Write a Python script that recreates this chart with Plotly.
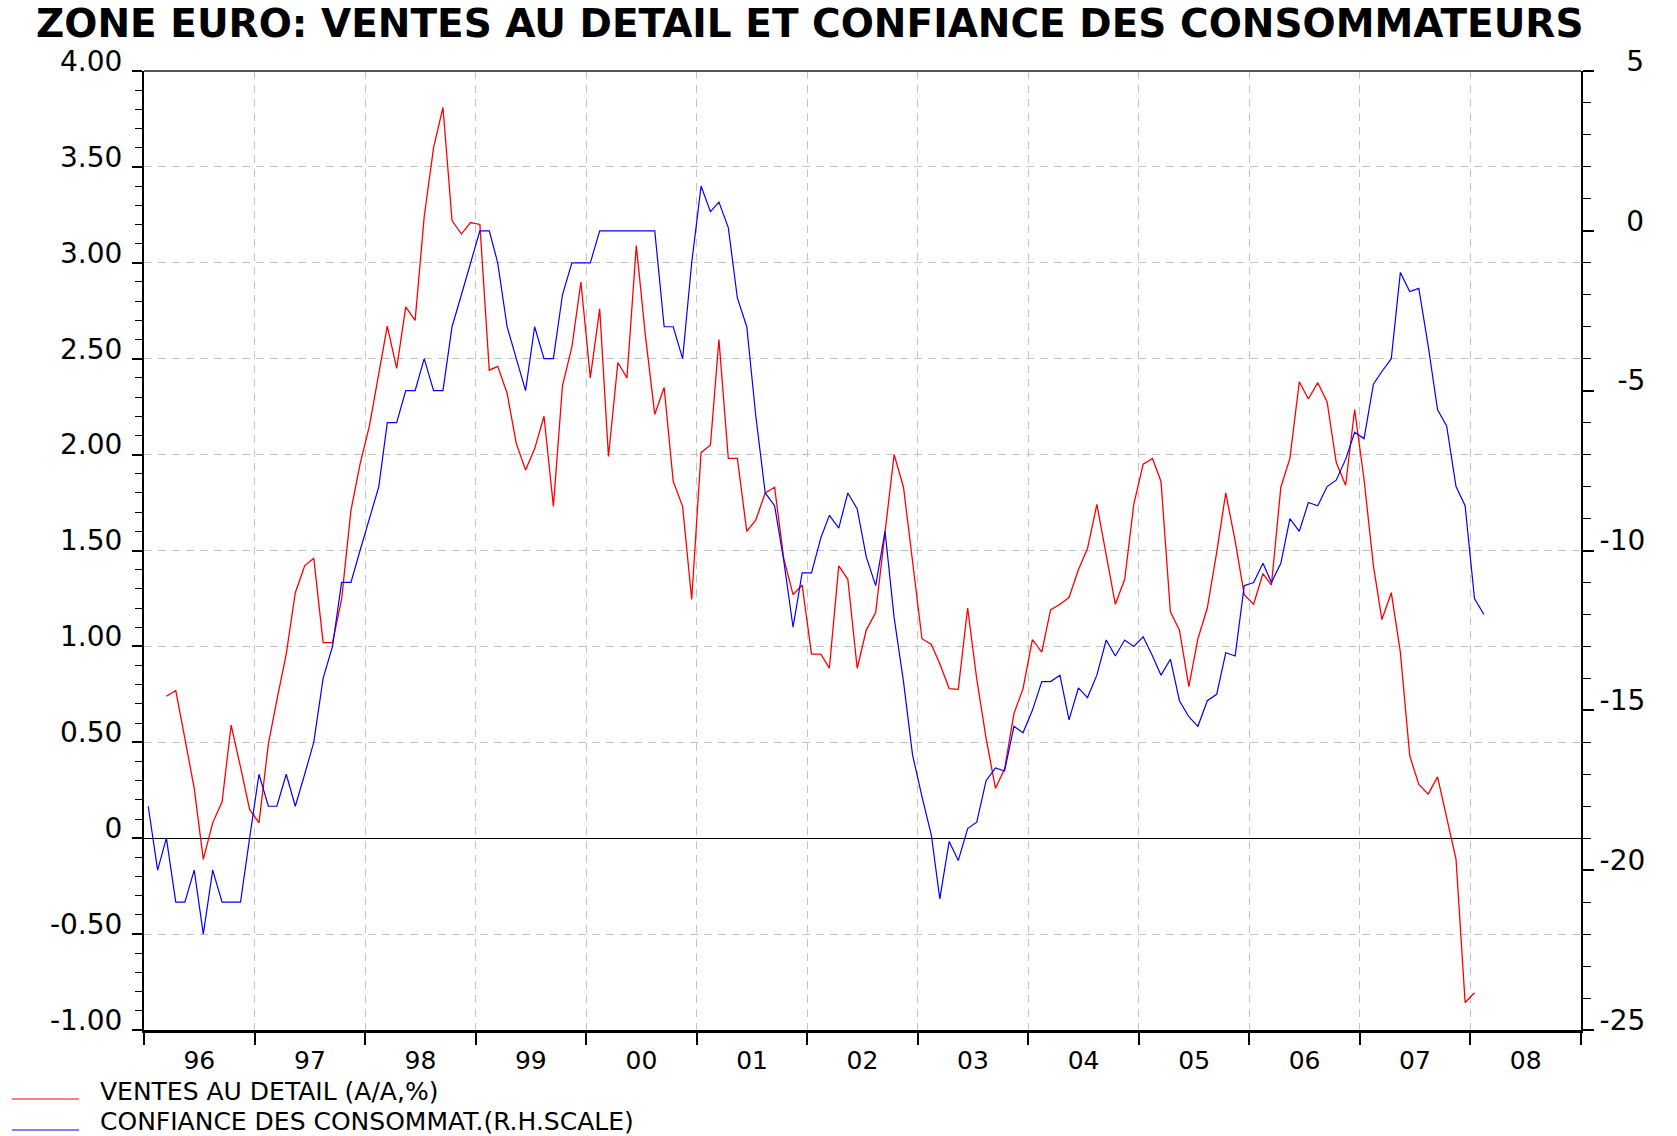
import pandas as pd
import plotly.graph_objects as go

# ---------------- data ----------------
title_text = "ZONE EURO: VENTES AU DETAIL ET CONFIANCE DES CONSOMMATEURS"
retail_name = "VENTES AU DETAIL (A/A,%)"
conf_name = "CONFIANCE DES CONSOMMAT.(R.H.SCALE)"

# Retail sales, y/y %, monthly from March 1996 to January 2008
retail_start = "1996-03-01"
retail = [
    0.74, 0.77, 0.52, 0.26, -0.11, 0.08, 0.19, 0.59, 0.37, 0.15,
    0.08, 0.49, 0.72, 0.96, 1.28, 1.42, 1.46, 1.02, 1.02, 1.245,
    1.71, 1.95, 2.15, 2.43, 2.67, 2.45, 2.77, 2.70, 3.24, 3.60,
    3.81, 3.22, 3.15, 3.21, 3.20, 2.44, 2.46, 2.32, 2.06, 1.92,
    2.03, 2.20, 1.73, 2.36, 2.56, 2.90, 2.40, 2.76, 1.99, 2.48,
    2.40, 3.09, 2.62, 2.21, 2.35, 1.86, 1.73, 1.245, 2.01, 2.05,
    2.60, 1.98, 1.98, 1.60, 1.66, 1.80, 1.83, 1.46, 1.27, 1.32,
    0.96, 0.96, 0.886, 1.42, 1.35, 0.886, 1.085, 1.176, 1.58, 2.00,
    1.83, 1.43, 1.04, 1.01, 0.91, 0.78, 0.776, 1.20, 0.83, 0.52,
    0.26, 0.36, 0.65, 0.78, 1.035, 0.97, 1.19, 1.22, 1.255, 1.40,
    1.51, 1.74, 1.47, 1.22, 1.35, 1.74, 1.95, 1.98, 1.86, 1.18,
    1.085, 0.79, 1.04, 1.20, 1.49, 1.80, 1.55, 1.27, 1.22, 1.38,
    1.32, 1.83, 1.98, 2.38, 2.29, 2.375, 2.275, 1.96, 1.84, 2.235,
    1.87, 1.42, 1.14, 1.28, 0.97, 0.43, 0.28, 0.23, 0.32, 0.10,
    -0.11, -0.857, -0.806,
]

# Consumer confidence (right-hand scale), monthly from January 1996 to February 2008
conf_start = "1996-01-01"
confidence = [
    -18, -20, -19, -21, -21, -20, -22, -20, -21, -21,
    -21, -19, -17, -18, -18, -17, -18, -17, -16, -14,
    -13, -11, -11, -10, -9, -8, -6, -6, -5, -5,
    -4, -5, -5, -3, -2, -1, 0, 0, -1, -3,
    -4, -5, -3, -4, -4, -2, -1, -1, -1, 0,
    0, 0, 0, 0, 0, 0, -3, -3, -4, -1,
    1.4, 0.6, 0.9, 0.1, -2.1, -3, -5.8, -8.2, -8.6, -10.3,
    -12.4, -10.7, -10.7, -9.6, -8.9, -9.3, -8.2, -8.7, -10.2, -11.1,
    -9.4, -12.1, -14.1, -16.4, -17.7, -18.9, -20.9, -19.1, -19.7, -18.7,
    -18.5, -17.2, -16.8, -16.9, -15.5, -15.7, -15.0, -14.1, -14.1, -13.9,
    -15.3, -14.3, -14.6, -13.9, -12.8, -13.3, -12.8, -13.0, -12.7, -13.3,
    -13.9, -13.4, -14.7, -15.2, -15.5, -14.7, -14.5, -13.2, -13.3, -11.1,
    -11.0, -10.4, -11.0, -10.4, -9.0, -9.4, -8.5, -8.6, -8.0, -7.8,
    -7.15, -6.3, -6.5, -4.8, -4.4, -4.0, -1.3, -1.9, -1.8, -3.6,
    -5.6, -6.1, -8.0, -8.6, -11.5, -12.0,
]

left_tickvals = [4.0, 3.5, 3.0, 2.5, 2.0, 1.5, 1.0, 0.5, 0.0, -0.5, -1.0]
left_ticktext = ["4.00", "3.50", "3.00", "2.50", "2.00", "1.50", "1.00", "0.50", "0", "-0.50", "-1.00"]
right_tickvals = [5, 0, -5, -10, -15, -20, -25]
right_ticktext = ["\u2007\u00a05", "\u2007\u00a00", "\u2007-5", "-10", "-15", "-20", "-25"]

x_range = ["1996-01-01", "2009-01-01"]


def monthly_dates(start, n):
    # points sit in the middle of each month
    return pd.date_range(start, periods=n, freq="MS") + pd.Timedelta(days=14)


# ---------------- figure ----------------
RED = "#ff0000"
BLUE = "#0000ff"
GRID = "#c4c4c4"
FONT = "DejaVu Sans"

fig = go.Figure()
fig.add_trace(go.Scatter(
    x=monthly_dates(retail_start, len(retail)), y=retail,
    mode="lines", name=retail_name,
    line=dict(color=RED, width=1.3), yaxis="y",
))
fig.add_trace(go.Scatter(
    x=monthly_dates(conf_start, len(confidence)), y=confidence,
    mode="lines", name=conf_name,
    line=dict(color=BLUE, width=1.2), yaxis="y2",
))

W, H = 1677, 1136
L, R, T, B = 144, 96, 71, 106
plot_w = W - L - R
plot_h = H - T - B


def px_x(px):
    return (px - L) / plot_w


def px_y(py):
    return (H - B - py) / plot_h


fig.update_layout(
    width=W, height=H,
    margin=dict(l=L, r=R, t=T, b=B),
    paper_bgcolor="white", plot_bgcolor="white",
    font=dict(family=FONT, color="black"),
    showlegend=False,
    title=dict(
        text="<b>" + title_text + "</b>",
        font=dict(family=FONT, size=39, color="black"),
        xref="container", x=36 / W, xanchor="left",
        yref="container", y=1 - 23 / H, yanchor="middle",
    ),
    xaxis=dict(
        type="date", range=x_range,
        tick0="1996-01-01", dtick="M12", tickformat="%y",
        ticklabelmode="period",
        ticks="outside", ticklen=12, tickwidth=1.5, tickcolor="black",
        tickfont=dict(size=25, family=FONT),
        ticklabelstandoff=-6,
        showgrid=True, gridcolor=GRID, gridwidth=1, griddash="8px,6px",
        showline=True, linecolor="black", linewidth=3,
        zeroline=False,
    ),
    yaxis=dict(
        range=[-1, 4],
        tickmode="array", tickvals=left_tickvals, ticktext=left_ticktext,
        ticks="outside", ticklen=10, tickwidth=1.5, tickcolor="black",
        tickfont=dict(size=28, family=FONT),
        ticklabelshift=-10, ticklabelstandoff=4,
        showgrid=True, gridcolor=GRID, gridwidth=1, griddash="8px,6px",
        zeroline=True, zerolinecolor="black", zerolinewidth=1.2,
        showline=True, linecolor="black", linewidth=2,
        minor=dict(tickmode="linear", tick0=0, dtick=0.1, ticks="outside",
                   ticklen=7, tickwidth=1, tickcolor="black", showgrid=False),
    ),
    yaxis2=dict(
        range=[-25, 5], overlaying="y", side="right",
        tickmode="array", tickvals=right_tickvals, ticktext=right_ticktext,
        ticks="outside", ticklen=11, tickwidth=1.5, tickcolor="black",
        tickfont=dict(size=28, family=FONT),
        ticklabelshift=-10,
        showgrid=False, zeroline=False,
        showline=True, linecolor="black", linewidth=2,
        minor=dict(tickmode="linear", tick0=0, dtick=1, ticks="outside",
                   ticklen=8, tickwidth=1, tickcolor="black", showgrid=False),
    ),
)

# top border of the frame
fig.add_shape(type="line", xref="paper", yref="paper", x0=0, x1=1, y0=1, y1=1,
              line=dict(color="#555555", width=2))

# legend (line samples + labels) below the axis
legend_items = [(retail_name, RED, 1091, 1099), (conf_name, BLUE, 1121, 1130)]
for name, color, text_y, line_y in legend_items:
    fig.add_shape(type="line", xref="paper", yref="paper",
                  x0=px_x(12), x1=px_x(79), y0=px_y(line_y), y1=px_y(line_y),
                  line=dict(color=color, width=1.2))
    fig.add_annotation(text=name, xref="paper", yref="paper",
                       x=px_x(98), y=px_y(text_y), xanchor="left", yanchor="middle",
                       showarrow=False, font=dict(family=FONT, size=25, color="black"))

fig.write_html("out.html",
               config={"displayModeBar": False},
               post_script="document.body.style.margin='0';document.body.style.overflow='hidden';")
